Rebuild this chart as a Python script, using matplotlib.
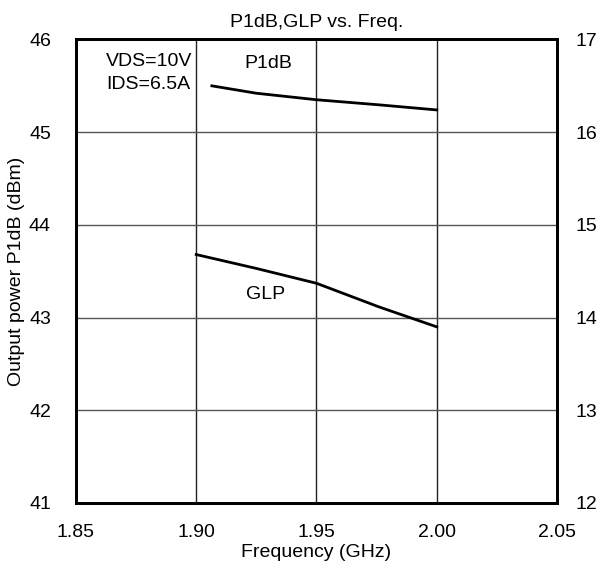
import matplotlib.pyplot as plt

plt.rcParams['font.family'] = ['Liberation Sans', 'DejaVu Sans']

# P1dB (left axis, dBm)
freq_p1db = [1.9065, 1.925, 1.95, 1.976, 2.00]
p1db = [45.50, 45.42, 45.35, 45.295, 45.24]

# GLP (right axis, dB)
freq_glp = [1.90, 1.925, 1.95, 1.976, 2.00]
glp = [14.68, 14.53, 14.37, 14.115, 13.90]

x_ticks = [1.85, 1.90, 1.95, 2.00, 2.05]
x_labels = ['1.85', '1.90', '1.95', '2.00', '2.05']

fig = plt.figure(figsize=(6.04, 5.79), dpi=100)
ax = fig.add_axes([0.1258, 0.1313, 0.7964, 0.8005])
ax2 = ax.twinx()

ax.plot(freq_p1db, p1db, color='black', lw=2, zorder=3)
ax2.plot(freq_glp, glp, color='black', lw=2, zorder=3)

ax.set_xlim(1.85, 2.05)
ax.set_ylim(41, 46)
ax2.set_ylim(12, 17)
ax.set_xticks(x_ticks)
ax.set_xticklabels(x_labels)
ax.set_yticks(range(41, 47))
ax2.set_yticks(range(12, 18))

ax.xaxis.grid(True, color='#222222', lw=1)
ax.yaxis.grid(True, color='#555555', lw=1)
ax.tick_params(axis='x', length=0, labelsize=14, pad=15)
ax.tick_params(axis='y', length=0, labelsize=14, pad=18)
ax2.tick_params(length=0, labelsize=14, pad=13)

for a in (ax, ax2):
    for s in a.spines.values():
        s.set_linewidth(2)

ax.set_xlabel('Frequency (GHz)', fontsize=14, labelpad=2)
ax.set_ylabel('Output power P1dB (dBm)', fontsize=14, labelpad=3)
ax.set_title('P1dB,GLP vs. Freq.', fontsize=14, pad=9)

ax.text(1.8625, 45.635, 'VDS=10V\nIDS=6.5A', fontsize=14, va='center', ha='left',
        linespacing=1.45, zorder=2,
        bbox=dict(facecolor='white', edgecolor='none', pad=2))
ax.text(1.930, 45.74, 'P1dB', fontsize=14, va='center', ha='center')
ax.text(1.929, 43.247, 'GLP', fontsize=14, va='center', ha='center')

fig.savefig('out.png', dpi=100)
